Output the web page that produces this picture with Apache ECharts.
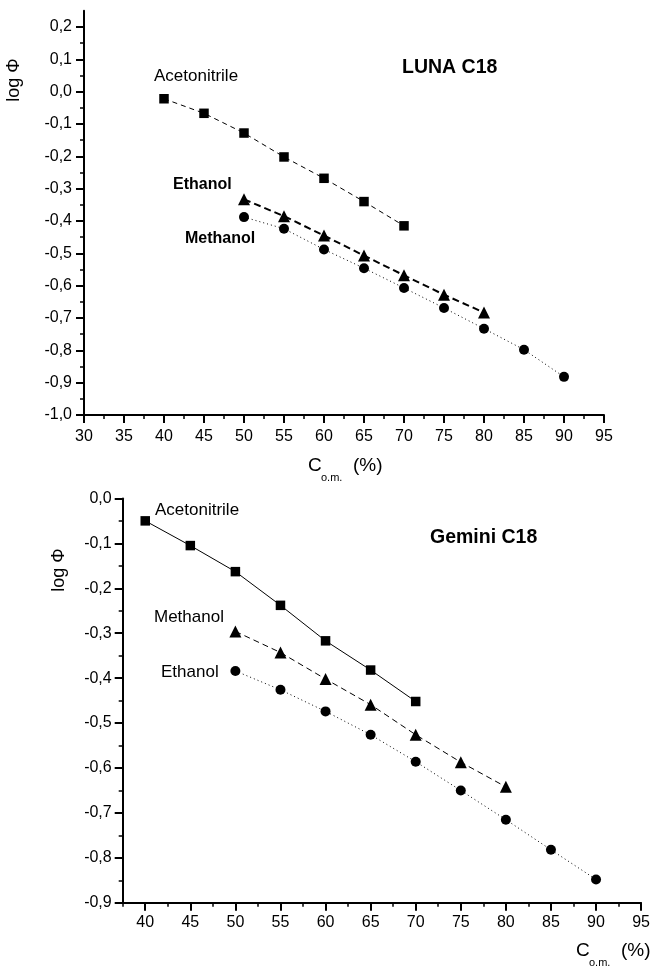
<!DOCTYPE html>
<html>
<head>
<meta charset="UTF-8">
<title>log Φ vs C o.m. — LUNA C18 / Gemini C18</title>
<script src="https://cdn.jsdelivr.net/npm/echarts@6/dist/echarts.min.js"></script>
<style>
  html, body { margin: 0; padding: 0; background: #fff; }
  #chart { width: 653px; height: 967px; }
</style>
</head>
<body>
<div id="chart"></div>
<script>
// --- LUNA C18 (upper panel) ---
const lunaAcnX = [40, 45, 50, 55, 60, 65, 70]
const lunaAcnY = [-0.022, -0.067, -0.128, -0.202, -0.268, -0.340, -0.415]
const lunaEtohX = [50, 55, 60, 65, 70, 75, 80]
const lunaEtohY = [-0.333, -0.385, -0.445, -0.507, -0.568, -0.628, -0.683]
const lunaMeohX = [50, 55, 60, 65, 70, 75, 80, 85, 90]
const lunaMeohY = [-0.388, -0.424, -0.488, -0.546, -0.607, -0.669, -0.733, -0.798, -0.882]

// --- Gemini C18 (lower panel) ---
const gemAcnX = [40, 45, 50, 55, 60, 65, 70]
const gemAcnY = [-0.050, -0.105, -0.163, -0.238, -0.317, -0.382, -0.452]
const gemMeohX = [50, 55, 60, 65, 70, 75, 80]
const gemMeohY = [-0.296, -0.343, -0.402, -0.459, -0.526, -0.587, -0.642]
const gemEtohX = [50, 55, 60, 65, 70, 75, 80, 85, 90]
const gemEtohY = [-0.384, -0.426, -0.474, -0.526, -0.586, -0.650, -0.715, -0.782, -0.848]

// tick values
const lunaXTicks = [30, 35, 40, 45, 50, 55, 60, 65, 70, 75, 80, 85, 90, 95]
const lunaXMinor = [32.5, 37.5, 42.5, 47.5, 52.5, 57.5, 62.5, 67.5, 72.5, 77.5, 82.5, 87.5, 92.5]
const lunaYTicks = [-1.0, -0.9, -0.8, -0.7, -0.6, -0.5, -0.4, -0.3, -0.2, -0.1, 0.0, 0.1, 0.2]
const lunaYMinor = [-0.95, -0.85, -0.75, -0.65, -0.55, -0.45, -0.35, -0.25, -0.15, -0.05, 0.05, 0.15]
const gemXTicks = [40, 45, 50, 55, 60, 65, 70, 75, 80, 85, 90, 95]
const gemXMinor = [37.5, 42.5, 47.5, 52.5, 57.5, 62.5, 67.5, 72.5, 77.5, 82.5, 87.5, 92.5]
const gemYTicks = [-0.9, -0.8, -0.7, -0.6, -0.5, -0.4, -0.3, -0.2, -0.1, 0.0]
const gemYMinor = [-0.85, -0.75, -0.65, -0.55, -0.45, -0.35, -0.25, -0.15, -0.05]

const FONT = '"Liberation Sans", Arial, sans-serif'
const comma = v => v.toFixed(1).replace('.', ',')
const pts = (xs, ys) => xs.map((x, i) => [x, ys[i]])

// major axis + a second bare axis that only carries the short minor ticks
function axisPair (dir, grid, min, max, major, minor, margin, fmt) {
  const pos = dir === 'x' ? 'bottom' : 'left'
  return [{
    type: 'value', gridIndex: grid, min, max, position: pos,
    axisLine: { onZero: false, lineStyle: { color: '#000', width: 2 } },
    axisTick: { length: 8, customValues: major, lineStyle: { color: '#000', width: 2 } },
    axisLabel: { customValues: major, margin, color: '#000', fontSize: 16, fontFamily: FONT, formatter: fmt },
    splitLine: { show: false }
  }, {
    type: 'value', gridIndex: grid, min, max, position: pos,
    axisLine: { show: false, onZero: false },
    axisTick: { length: 4, customValues: minor, lineStyle: { color: '#000', width: 1.5 } },
    axisLabel: { show: false },
    splitLine: { show: false }
  }]
}

function line (xi, data, symbol, size, lineStyle) {
  return {
    type: 'line', xAxisIndex: xi, yAxisIndex: xi, data,
    symbol, symbolSize: size, showAllSymbol: true,
    itemStyle: { color: '#000' },
    lineStyle: Object.assign({ color: '#000' }, lineStyle),
    animation: false
  }
}

function label (text, x, y, size, bold, rot) {
  return {
    type: 'text', x, y, rotation: rot || 0,
    style: {
      text, fill: '#000', fontSize: size, fontWeight: bold ? 'bold' : 'normal', fontFamily: FONT,
      align: rot ? 'center' : 'left', verticalAlign: 'middle',
      textAlign: rot ? 'center' : 'left', textVerticalAlign: 'middle'
    }
  }
}

function xTitle (x, y) {
  return [
    label('C', x, y, 19, false),
    label('o.m.', x + 13, y + 12, 11, false),
    label('(%)', x + 45, y, 19, false)
  ]
}

const chart = echarts.init(document.getElementById('chart'))
chart.setOption({
  backgroundColor: '#fff',
  grid: [
    { left: 84, top: 10.8, width: 520, height: 404.2 },
    { left: 122.7, top: 498.4, width: 521, height: 404.4 }
  ],
  xAxis: [
    ...axisPair('x', 0, 30, 95, lunaXTicks, lunaXMinor, 14, v => String(v)),
    ...axisPair('x', 1, 37.5, 95, gemXTicks, gemXMinor, 12, v => String(v))
  ],
  yAxis: [
    ...axisPair('y', 0, -1.0, 0.25, lunaYTicks, lunaYMinor, 12, comma),
    ...axisPair('y', 1, -0.9, 0.0, gemYTicks, gemYMinor, 11, comma)
  ],
  series: [
    line(0, pts(lunaAcnX, lunaAcnY), 'rect', 9.5, { width: 1, type: [5, 4] }),
    line(0, pts(lunaEtohX, lunaEtohY), 'triangle', 12, { width: 2, type: [7, 4] }),
    line(0, pts(lunaMeohX, lunaMeohY), 'circle', 10, { width: 1, type: [1, 3] }),
    line(2, pts(gemAcnX, gemAcnY), 'rect', 9.5, { width: 1, type: 'solid' }),
    line(2, pts(gemMeohX, gemMeohY), 'triangle', 12, { width: 1, type: [6, 4] }),
    line(2, pts(gemEtohX, gemEtohY), 'circle', 10, { width: 1, type: [1, 3] })
  ],
  graphic: {
    elements: [
      label('log Φ', 14.5, 80, 18, false, Math.PI / 2),
      label('Acetonitrile', 154, 76, 17, false),
      label('Ethanol', 173, 185, 16, true),
      label('Methanol', 185, 239, 16, true),
      label('LUNA C18', 402, 68, 19.5, true),
      ...xTitle(308, 466),
      label('log Φ', 59, 570, 18, false, Math.PI / 2),
      label('Acetonitrile', 155, 510, 17, false),
      label('Methanol', 154, 617, 17, false),
      label('Ethanol', 161, 672, 17, false),
      label('Gemini C18', 430, 538, 19.5, true),
      ...xTitle(576, 951)
    ]
  }
})
</script>
</body>
</html>
